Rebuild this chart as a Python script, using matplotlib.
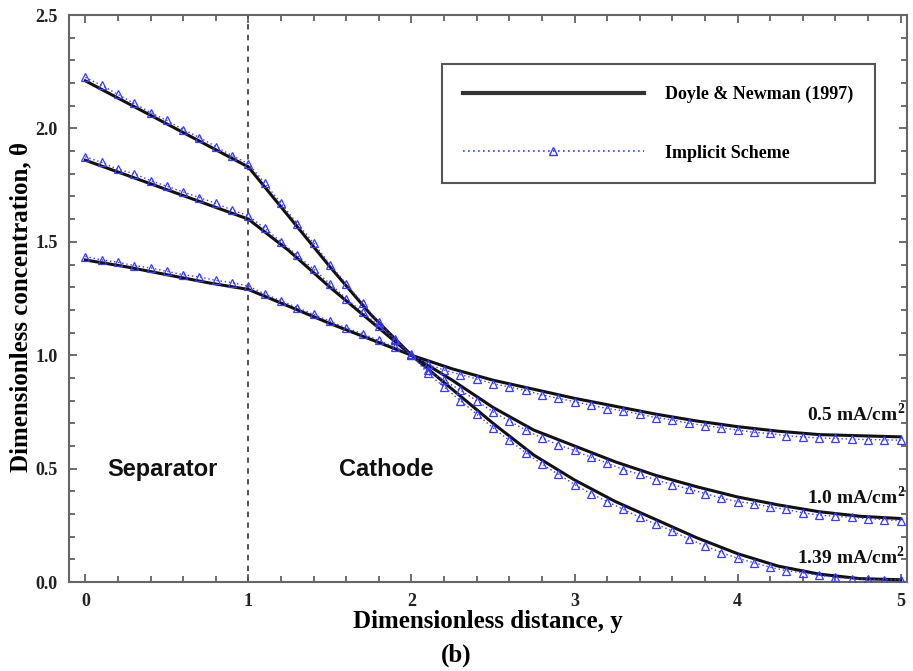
import matplotlib
matplotlib.use("Agg")
import matplotlib.pyplot as plt
from matplotlib.ticker import MultipleLocator, FormatStrFormatter

# Doyle & Newman (1997) profiles, sampled every 0.25 in y
y_ref = [0.0, 0.25, 0.5, 0.75, 1.0, 1.25, 1.5, 1.75, 2.0, 2.25, 2.5,
         2.75, 3.0, 3.25, 3.5, 3.75, 4.0, 4.25, 4.5, 4.75, 5.0]
ref_139 = [2.21, 2.115, 2.02, 1.925, 1.83, 1.61, 1.39, 1.18, 1.00, 0.85, 0.70,
           0.56, 0.45, 0.355, 0.275, 0.195, 0.125, 0.07, 0.035, 0.015, 0.01]
ref_100 = [1.86, 1.795, 1.73, 1.665, 1.60, 1.46, 1.30, 1.15, 1.00, 0.89, 0.77,
           0.67, 0.60, 0.53, 0.47, 0.42, 0.375, 0.34, 0.31, 0.29, 0.28]
ref_050 = [1.42, 1.39, 1.355, 1.32, 1.29, 1.215, 1.14, 1.07, 1.00, 0.94, 0.89,
           0.85, 0.81, 0.775, 0.74, 0.71, 0.685, 0.665, 0.65, 0.645, 0.64]

# implicit scheme results on the 0.1 grid
y_num = [round(0.1 * i, 1) for i in range(51)]
num_139 = [2.225, 2.19, 2.15, 2.11, 2.07, 2.035, 1.995, 1.96, 1.92, 1.88, 1.845,
           1.76, 1.67, 1.58, 1.495, 1.40, 1.315, 1.23, 1.145, 1.07, 1.00,
           0.92, 0.86, 0.80, 0.74, 0.68, 0.625, 0.57, 0.52, 0.475, 0.43,
           0.39, 0.355, 0.32, 0.285, 0.255, 0.225, 0.19, 0.16, 0.13, 0.105,
           0.085, 0.065, 0.05, 0.04, 0.03, 0.02, 0.015, 0.012, 0.01, 0.01]
num_100 = [1.875, 1.85, 1.82, 1.80, 1.77, 1.745, 1.72, 1.695, 1.67, 1.64, 1.615,
           1.56, 1.50, 1.44, 1.38, 1.315, 1.25, 1.19, 1.13, 1.065, 1.00,
           0.935, 0.89, 0.845, 0.80, 0.75, 0.71, 0.67, 0.635, 0.605, 0.58,
           0.55, 0.525, 0.495, 0.475, 0.45, 0.43, 0.41, 0.39, 0.37, 0.355,
           0.345, 0.33, 0.32, 0.305, 0.295, 0.29, 0.285, 0.28, 0.275, 0.27]
num_050 = [1.435, 1.42, 1.41, 1.395, 1.385, 1.37, 1.355, 1.345, 1.33, 1.32, 1.305,
           1.27, 1.24, 1.21, 1.18, 1.15, 1.12, 1.095, 1.065, 1.035, 1.005,
           0.96, 0.935, 0.915, 0.895, 0.875, 0.86, 0.845, 0.825, 0.81, 0.795,
           0.78, 0.765, 0.755, 0.74, 0.725, 0.715, 0.70, 0.69, 0.68, 0.67,
           0.66, 0.655, 0.645, 0.64, 0.635, 0.633, 0.63, 0.628, 0.627, 0.625]

current_labels = ["0.5 mA/cm$^{\\mathbf{2}}$", "1.0 mA/cm$^{\\mathbf{2}}$",
                  "1.39 mA/cm$^{\\mathbf{2}}$"]
label_pos = [0.74, 0.375, 0.11]

serif = "Liberation Serif"
sans = "Liberation Sans"
plt.rcParams["mathtext.fontset"] = "custom"
plt.rcParams["mathtext.bf"] = "Liberation Serif:bold"
plt.rcParams["mathtext.rm"] = "Liberation Serif"

fig = plt.figure(figsize=(9.13, 6.71), dpi=100)
ax = fig.add_axes([0.0756, 0.1326, 0.918, 0.845])

blue = "#3a3aff"
for ref in (ref_139, ref_100, ref_050):
    ax.plot(y_ref, ref, color="#111111", lw=2.2, zorder=3)
for num in (num_139, num_100, num_050):
    ax.plot(y_num, num, color=blue, lw=1.0, ls=(0, (1, 2)), marker="^",
            markersize=6, markerfacecolor="none", markeredgecolor=blue,
            markeredgewidth=0.9, zorder=4)

# separator / cathode interface
ax.axvline(1.0, color="#444444", lw=1.3, ls=(0, (3, 3)), zorder=1)

# legend built from proxy lines
h1, = ax.plot([], [], color="#333333", lw=3)
h2, = ax.plot([], [], color=blue, lw=1.2, ls=(0, (1, 2)), marker="^",
              markersize=6, markerfacecolor="none", markeredgecolor=blue)
leg = ax.legend([h1, h2], ["Doyle & Newman (1997)", "Implicit Scheme"],
                loc="upper right", bbox_to_anchor=(0.962, 0.9136),
                borderaxespad=0,
                prop={"family": serif, "weight": "bold", "size": 13},
                handlelength=10, handletextpad=1.2, labelspacing=2.3,
                borderpad=1.2, numpoints=1, fancybox=False, framealpha=1)
leg.get_frame().set_edgecolor("#555555")
leg.get_frame().set_linewidth(1.5)

for txt, yv in zip(current_labels, label_pos):
    ax.text(5.03, yv, txt, ha="right", va="center", fontsize=14,
            fontfamily=serif, fontweight="bold", color="#111111")

ax.text(0.47, 0.494, "Separator", ha="center", va="center", fontsize=17,
        fontfamily=sans, fontweight="bold", color="#111111")
ax.text(2.135, 0.494, "Cathode", ha="right", va="center", fontsize=17,
        fontfamily=sans, fontweight="bold", color="#111111")

ax.set_xlim(-0.1, 5.04)
ax.set_ylim(0, 2.5)
ax.xaxis.set_major_locator(MultipleLocator(1))
ax.xaxis.set_minor_locator(MultipleLocator(0.2))
ax.yaxis.set_major_locator(MultipleLocator(0.5))
ax.yaxis.set_minor_locator(MultipleLocator(0.1))
ax.xaxis.set_major_formatter(FormatStrFormatter("%d"))
ax.yaxis.set_major_formatter(FormatStrFormatter("%.1f"))
ax.tick_params(which="both", direction="in", top=True, right=True,
               color="#555555", width=1.2)
ax.tick_params(which="major", length=6, pad=8)
ax.tick_params(which="minor", length=4)
for lab in ax.get_xticklabels() + ax.get_yticklabels():
    lab.set_fontfamily(serif)
    lab.set_fontweight("bold")
    lab.set_fontsize(13)
    lab.set_color("#222222")
for sp in ax.spines.values():
    sp.set_color("#666666")
    sp.set_linewidth(1.5)

ax.set_xlabel("Dimensionless distance, y", fontfamily=serif, fontweight="bold",
              fontsize=18, va="center")
ax.xaxis.set_label_coords(0.5, -0.0705)
ax.set_ylabel("Dimensionless concentration, \u03b8", fontfamily=serif,
              fontweight="bold", fontsize=18, va="center")
ax.yaxis.set_label_coords(-0.058, 0.485)
fig.text(0.5, 0.024, "(b)", ha="center", va="center", fontfamily=serif,
         fontweight="bold", fontsize=18)

fig.savefig("out.png", dpi=100)
